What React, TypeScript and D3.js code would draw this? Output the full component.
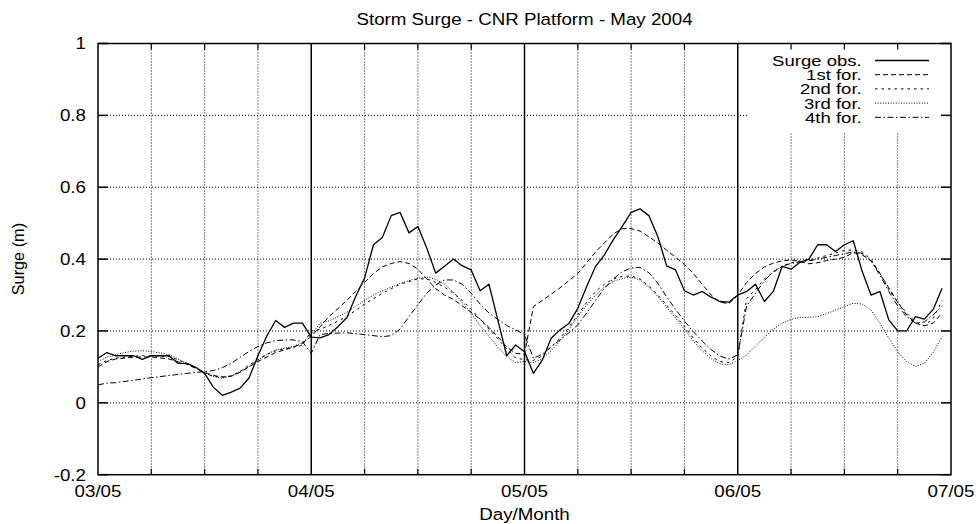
import React from 'react';
import * as d3 from 'd3';

// ---------- data ----------
const dayLabels = ['03/05', '04/05', '05/05', '06/05', '07/05'];
const dayHours = [0, 24, 48, 72, 96];
const gridHours = [6, 12, 18, 30, 36, 42, 54, 60, 66, 78, 84, 90];
const yTicks = [-0.2, 0, 0.2, 0.4, 0.6, 0.8, 1];
const yTickLabels = ['-0.2', '0', '0.2', '0.4', '0.6', '0.8', '1'];

// observed surge, one value per hour starting 03/05 00:00
const obsValues = [
  0.124, 0.14, 0.131, 0.131, 0.131, 0.121, 0.131, 0.131, 0.131, 0.11, 0.11, 0.099,
  0.082, 0.043, 0.021, 0.03, 0.041, 0.069, 0.131, 0.186, 0.229, 0.21, 0.222, 0.222,
  0.183, 0.181, 0.19, 0.212, 0.237, 0.296, 0.347, 0.44, 0.46, 0.521, 0.53, 0.473,
  0.491, 0.431, 0.361, 0.38, 0.4, 0.381, 0.37, 0.312, 0.33, 0.23, 0.131, 0.161,
  0.142, 0.082, 0.119, 0.18, 0.203, 0.221, 0.263, 0.324, 0.38, 0.412, 0.454, 0.491,
  0.53, 0.54, 0.521, 0.463, 0.381, 0.37, 0.312, 0.3, 0.31, 0.294, 0.282, 0.28,
  0.3, 0.31, 0.33, 0.282, 0.31, 0.38, 0.372, 0.391, 0.4, 0.44, 0.44, 0.421,
  0.44, 0.451, 0.366, 0.3, 0.31, 0.231, 0.2, 0.2, 0.24, 0.233, 0.26, 0.319,
];

// forecasts: [hour, value]
const fc1: [number, number][] = [
  [0, 0.1], [1, 0.115], [2, 0.122], [4, 0.127], [6, 0.128], [8, 0.122], [10, 0.107], [12, 0.085],
  [13, 0.076], [14, 0.072], [15, 0.074], [16, 0.085], [18, 0.115], [20, 0.14], [22, 0.155], [23, 0.165],
  [24, 0.185], [25, 0.212], [26, 0.24], [27, 0.262], [28, 0.285], [29, 0.31], [30, 0.335], [31, 0.36],
  [32, 0.378], [33, 0.388], [34, 0.393], [35, 0.388], [36, 0.372], [37, 0.345], [38, 0.318], [39, 0.3],
  [40, 0.288], [41, 0.27], [42, 0.252], [43, 0.233], [44, 0.21], [45, 0.184], [46, 0.155], [47, 0.138],
  [48, 0.135],
  [49, 0.268], [50, 0.285], [52, 0.32], [54, 0.36], [55, 0.39], [56, 0.42], [57, 0.445], [58, 0.47],
  [59, 0.485], [60, 0.485], [61, 0.478], [62, 0.462], [63, 0.445], [64, 0.425], [65, 0.405], [66, 0.385],
  [67, 0.36], [68, 0.33], [69, 0.3], [70, 0.28], [71, 0.276], [72, 0.3],
  [73, 0.335], [74, 0.36], [75, 0.378], [76, 0.389], [77, 0.395], [78, 0.398], [79, 0.393], [80, 0.387],
  [81, 0.39], [82, 0.396], [83, 0.4], [84, 0.405], [85, 0.418], [86, 0.412], [87, 0.395], [88, 0.36],
  [89, 0.32], [90, 0.28], [91, 0.245], [92, 0.222], [93, 0.214], [94, 0.222], [95, 0.25],
];

const fc2: [number, number][] = [
  [0, 0.106], [1, 0.118], [2, 0.124], [4, 0.13], [5, 0.131], [6, 0.131], [8, 0.129], [10, 0.11],
  [11, 0.097], [12, 0.082], [13, 0.074], [14, 0.071], [15, 0.075], [16, 0.087], [17, 0.105], [18, 0.12],
  [19, 0.135], [20, 0.145], [21, 0.15], [22, 0.155], [23, 0.16],
  [24, 0.2], [25, 0.205], [26, 0.215], [28, 0.24], [30, 0.275], [32, 0.305], [34, 0.33], [36, 0.345],
  [37, 0.345], [38, 0.335], [39, 0.322], [40, 0.305], [41, 0.285], [42, 0.26], [43, 0.233], [44, 0.205],
  [45, 0.178], [46, 0.15], [47, 0.125], [48, 0.12],
  [49, 0.118], [50, 0.13], [51, 0.155], [52, 0.18], [53, 0.21], [54, 0.245], [55, 0.28], [56, 0.31],
  [57, 0.33], [58, 0.345], [59, 0.352], [60, 0.353], [61, 0.345], [62, 0.325], [63, 0.3], [64, 0.272],
  [65, 0.243], [66, 0.212], [67, 0.18], [68, 0.152], [69, 0.13], [70, 0.115], [71, 0.112], [72, 0.128],
  [73, 0.29], [74, 0.315], [75, 0.345], [76, 0.363], [77, 0.38], [78, 0.39], [79, 0.395], [80, 0.398],
  [81, 0.403], [82, 0.41], [83, 0.417], [84, 0.424], [85, 0.426], [86, 0.42], [87, 0.4], [88, 0.36],
  [89, 0.315], [90, 0.28], [91, 0.25], [92, 0.225], [93, 0.215], [94, 0.235], [95, 0.285],
];

const fc3: [number, number][] = [
  [0, 0.115], [1, 0.127], [2, 0.134], [3, 0.14], [4, 0.144], [5, 0.145], [6, 0.143], [7, 0.139],
  [8, 0.134], [9, 0.122], [10, 0.11], [11, 0.098], [12, 0.084], [13, 0.073], [14, 0.069], [15, 0.075],
  [16, 0.088], [17, 0.101], [18, 0.118], [19, 0.135], [20, 0.147], [21, 0.152], [22, 0.157], [23, 0.168],
  [24, 0.19], [25, 0.222], [26, 0.228], [27, 0.24], [28, 0.252], [29, 0.268], [30, 0.285], [31, 0.3],
  [32, 0.312], [33, 0.322], [34, 0.332], [35, 0.34], [36, 0.347], [37, 0.35], [38, 0.344], [39, 0.33],
  [40, 0.308], [41, 0.28], [42, 0.25], [43, 0.215], [44, 0.185], [45, 0.155], [46, 0.128], [47, 0.112],
  [48, 0.115],
  [49, 0.112], [50, 0.122], [51, 0.145], [52, 0.172], [53, 0.205], [54, 0.24], [55, 0.272], [56, 0.3],
  [57, 0.322], [58, 0.338], [59, 0.346], [60, 0.35], [61, 0.342], [62, 0.322], [63, 0.296], [64, 0.266],
  [65, 0.236], [66, 0.205], [67, 0.172], [68, 0.145], [69, 0.123], [70, 0.108], [71, 0.106], [72, 0.118],
  [73, 0.133], [74, 0.158], [75, 0.182], [76, 0.205], [77, 0.222], [78, 0.232], [79, 0.238], [80, 0.238],
  [81, 0.24], [82, 0.248], [83, 0.258], [84, 0.268], [85, 0.277], [86, 0.275], [87, 0.258], [88, 0.222],
  [89, 0.18], [90, 0.142], [91, 0.115], [92, 0.101], [93, 0.11], [94, 0.14], [95, 0.185],
];

const fc4: [number, number][] = [
  [0, 0.05], [1, 0.055], [2, 0.056], [4, 0.063], [6, 0.07], [8, 0.076], [10, 0.082], [12, 0.087],
  [13, 0.09], [14, 0.098], [15, 0.11], [16, 0.127], [17, 0.143], [18, 0.157], [19, 0.167], [20, 0.173],
  [21, 0.175], [22, 0.175], [23, 0.17], [24, 0.138],
  [25, 0.19], [26, 0.193], [28, 0.195], [30, 0.19], [32, 0.184], [33, 0.187], [34, 0.205], [35, 0.24],
  [36, 0.273], [37, 0.305], [38, 0.328], [39, 0.342], [40, 0.342], [41, 0.33], [42, 0.305], [43, 0.275],
  [44, 0.25], [45, 0.232], [46, 0.215], [47, 0.203], [48, 0.19],
  [49, 0.124], [50, 0.135], [51, 0.156], [52, 0.175], [53, 0.195], [54, 0.217], [55, 0.25], [56, 0.285],
  [57, 0.319], [58, 0.345], [59, 0.365], [60, 0.375], [61, 0.377], [62, 0.362], [63, 0.333], [64, 0.295],
  [65, 0.26], [66, 0.228], [67, 0.198], [68, 0.172], [69, 0.148], [70, 0.13], [71, 0.122], [72, 0.133],
  [73, 0.27], [74, 0.305], [75, 0.34], [76, 0.365], [77, 0.38], [78, 0.388], [79, 0.392], [80, 0.395],
  [81, 0.4], [82, 0.405], [83, 0.41], [84, 0.415], [85, 0.42], [86, 0.416], [87, 0.395], [88, 0.355],
  [89, 0.31], [90, 0.27], [91, 0.24], [92, 0.222], [93, 0.225], [94, 0.245], [95, 0.27],
];

const seriesNames = ['Surge obs.', '1st for.', '2nd for.', '3rd for.', '4th for.'];
const seriesDash = ['none', '5,3', '2.5,4', '1,1.6', '6,2.5,1.5,2.5'];
const seriesWidth = [1.3, 1, 1, 1, 1];

const titleText = 'Storm Surge - CNR Platform - May 2004';
const xLabelText = 'Day/Month';
const yLabelText = 'Surge (m)';

// ---------- layout ----------
const W = 978;
const H = 524;
const L = 98;
const R = 951;
const T = 43.5;
const B = 474.7;
const FONT = "'Liberation Sans', Arial, Helvetica, sans-serif";
const FS = 16.3;
const SX = 1.15;
const LFS = 15.2;
const LSX = 1.22;

const x = d3.scaleLinear().domain([0, 96]).range([L, R]);
const y = d3.scaleLinear().domain([-0.2, 1]).range([B, T]);

const HText = ({
  px,
  py,
  anchor,
  fs = FS,
  sx = SX,
  children,
}: {
  px: number;
  py: number;
  anchor: string;
  fs?: number;
  sx?: number;
  children: React.ReactNode;
}) => (
  <text
    transform={`translate(${px},${py}) scale(${sx},1)`}
    textAnchor={anchor}
    fontSize={fs}
    fontFamily={FONT}
    fill="#000"
  >
    {children}
  </text>
);

export default function App() {
  const lineGen = d3
    .line<[number, number]>()
    .x((d) => x(d[0]))
    .y((d) => y(d[1]));

  const obs: [number, number][] = obsValues.map((v, i) => [i, v]);
  const allSeries = [obs, fc1, fc2, fc3, fc4];

  const legendBaselines = [66, 80.2, 94.4, 108.6, 122.8];

  return (
    <svg
      width={W}
      height={H}
      viewBox={`0 0 ${W} ${H}`}
      style={{ position: 'absolute', left: 0, top: 0, background: '#fff' }}
    >
      <rect x={0} y={0} width={W} height={H} fill="#fff" />

      {/* horizontal grid */}
      {yTicks
        .filter((v) => v > -0.2 && v < 1)
        .map((v) => (
          <line key={'hg' + v} x1={L} x2={R} y1={y(v)} y2={y(v)} stroke="#000" strokeWidth={1} strokeDasharray="1,2" />
        ))}
      {/* vertical grid */}
      {gridHours.map((h) => (
        <line key={'vg' + h} x1={x(h)} x2={x(h)} y1={T} y2={B} stroke="#000" strokeWidth={1} strokeDasharray="1,2" />
      ))}

      {/* legend background */}
      <rect x={747} y={T + 0.5} width={194} height={89} fill="#fff" />

      {/* day separator lines */}
      {dayHours
        .filter((h) => h > 0 && h < 96)
        .map((h) => (
          <line key={'dl' + h} x1={x(h)} x2={x(h)} y1={T} y2={B} stroke="#000" strokeWidth={1.5} />
        ))}

      {/* series */}
      {allSeries.map((s, i) => (
        <path
          key={'s' + i}
          d={lineGen(s) || ''}
          fill="none"
          stroke="#000"
          strokeWidth={seriesWidth[i]}
          strokeDasharray={seriesDash[i]}
          strokeLinejoin="round"
        />
      ))}

      {/* border */}
      <rect x={L} y={T} width={R - L} height={B - T} fill="none" stroke="#000" strokeWidth={1.5} />

      {/* y ticks */}
      {yTicks.map((v) => (
        <g key={'yt' + v}>
          <line x1={L} x2={L + 10} y1={y(v)} y2={y(v)} stroke="#000" strokeWidth={1.5} />
          <line x1={R - 10} x2={R} y1={y(v)} y2={y(v)} stroke="#000" strokeWidth={1.5} />
        </g>
      ))}
      {/* x ticks */}
      {gridHours.map((h) => (
        <g key={'xt' + h}>
          <line x1={x(h)} x2={x(h)} y1={B} y2={B - 6} stroke="#000" strokeWidth={1.2} />
          <line x1={x(h)} x2={x(h)} y1={T} y2={T + 6} stroke="#000" strokeWidth={1.2} />
        </g>
      ))}

      {/* y tick labels */}
      {yTicks.map((v, i) => (
        <HText key={'yl' + v} px={86} py={y(v) + 5.8} anchor="end">
          {yTickLabels[i]}
        </HText>
      ))}
      {/* x tick labels */}
      {dayHours.map((h, i) => (
        <HText key={'xl' + h} px={x(h)} py={497.4} anchor="middle">
          {dayLabels[i]}
        </HText>
      ))}

      {/* title & axis labels */}
      <HText px={(L + R) / 2} py={25} anchor="middle">
        {titleText}
      </HText>
      <HText px={(L + R) / 2} py={519.5} anchor="middle">
        {xLabelText}
      </HText>
      <text
        transform={`translate(24.3,${(T + B) / 2}) rotate(-90)`}
        textAnchor="middle"
        fontSize={FS}
        fontFamily={FONT}
        fill="#000"
      >
        {yLabelText}
      </text>

      {/* legend */}
      {seriesNames.map((n, i) => (
        <g key={'lg' + i}>
          <HText px={861.7} py={legendBaselines[i]} anchor="end" fs={LFS} sx={LSX}>
            {n}
          </HText>
          <line
            x1={875}
            x2={929}
            y1={legendBaselines[i] - 5.5}
            y2={legendBaselines[i] - 5.5}
            stroke="#000"
            strokeWidth={seriesWidth[i]}
            strokeDasharray={seriesDash[i]}
          />
        </g>
      ))}
    </svg>
  );
}
